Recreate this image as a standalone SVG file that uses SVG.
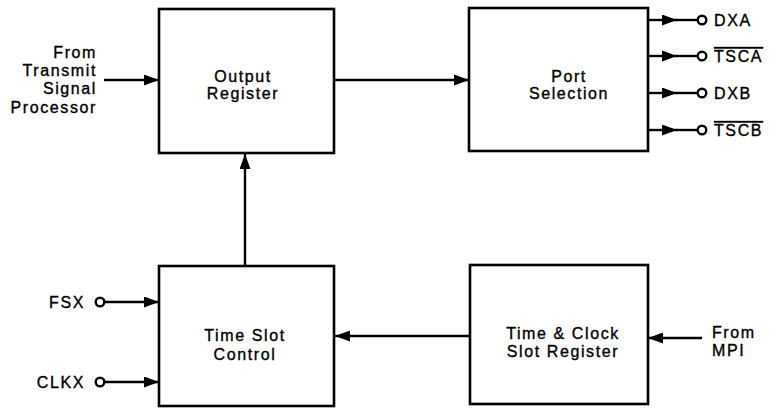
<svg xmlns="http://www.w3.org/2000/svg" width="769" height="408" viewBox="0 0 769 408">
<style>
.box{fill:#fff;stroke:#000;stroke-width:2.6}
.ln{fill:none;stroke:#000;stroke-width:2.4}
.pin{fill:#fff;stroke:#000;stroke-width:2.4}
text{font-family:"Liberation Sans",Arial,sans-serif;font-size:16px;letter-spacing:1.6px;fill:#000;stroke:#000;stroke-width:0.35}
.m{text-anchor:middle}
.e{text-anchor:end}
.ov{text-decoration:overline}
</style>
<defs>
<marker id="ah" viewBox="0 0 15 11" refX="15" refY="5.5" markerWidth="15" markerHeight="11" markerUnits="userSpaceOnUse" orient="auto">
<path d="M0,0 L15,5.5 L0,11 Z" fill="#000"/>
</marker>
</defs>
<rect width="769" height="408" fill="#fff"/>
<g id="connectors">
<line class="ln" x1="104" y1="80" x2="159" y2="80" marker-end="url(#ah)"/>
<line class="ln" x1="334" y1="80" x2="469" y2="80" marker-end="url(#ah)"/>
<line class="ln" x1="245" y1="266" x2="245" y2="154" marker-end="url(#ah)"/>
<line class="ln" x1="470" y1="336" x2="335" y2="336" marker-end="url(#ah)"/>
<line class="ln" x1="702" y1="338" x2="648" y2="338" marker-end="url(#ah)"/>
<line class="ln" x1="104" y1="302" x2="159" y2="302" marker-end="url(#ah)"/>
<line class="ln" x1="104" y1="382" x2="159" y2="382" marker-end="url(#ah)"/>
<line class="ln" x1="648" y1="20" x2="677" y2="20" marker-end="url(#ah)"/>
<line class="ln" x1="676" y1="20" x2="698" y2="20"/>
<line class="ln" x1="648" y1="56" x2="677" y2="56" marker-end="url(#ah)"/>
<line class="ln" x1="676" y1="56" x2="698" y2="56"/>
<line class="ln" x1="648" y1="93" x2="677" y2="93" marker-end="url(#ah)"/>
<line class="ln" x1="676" y1="93" x2="698" y2="93"/>
<line class="ln" x1="648" y1="130" x2="677" y2="130" marker-end="url(#ah)"/>
<line class="ln" x1="676" y1="130" x2="698" y2="130"/>
<circle class="pin" cx="702" cy="20" r="4.3"/>
<circle class="pin" cx="702" cy="56" r="4.3"/>
<circle class="pin" cx="702" cy="93" r="4.3"/>
<circle class="pin" cx="702" cy="130" r="4.3"/>
<circle class="pin" cx="100" cy="302" r="4.3"/>
<circle class="pin" cx="100" cy="382" r="4.3"/>
</g>
<g id="output-register">
<rect class="box" x="159" y="9" width="175" height="144"/>
<text class="m" x="243" y="82">Output</text>
<text class="m" x="243" y="99">Register</text>
</g>
<g id="port-selection">
<rect class="box" x="469" y="8" width="179" height="143"/>
<text class="m" x="569" y="82">Port</text>
<text class="m" x="569" y="99">Selection</text>
</g>
<g id="time-slot-control">
<rect class="box" x="159" y="266" width="175" height="140"/>
<text class="m" x="245" y="341">Time Slot</text>
<text class="m" x="245" y="360">Control</text>
</g>
<g id="time-clock-slot-register">
<rect class="box" x="470" y="265" width="178" height="139"/>
<text class="m" x="563" y="339">Time &amp; Clock</text>
<text class="m" x="563" y="357">Slot Register</text>
</g>
<g id="labels">
<text class="e" x="97" y="58">From</text>
<text class="e" x="97" y="76">Transmit</text>
<text class="e" x="97" y="94">Signal</text>
<text class="e" x="97" y="113">Processor</text>
<text class="e" x="85" y="308">FSX</text>
<text class="e" x="85" y="388">CLKX</text>
<text x="712" y="338">From</text>
<text x="712" y="356">MPI</text>
<text x="714" y="26">DXA</text>
<text class="ov" x="714" y="62">TSCA</text>
<text x="714" y="99">DXB</text>
<text class="ov" x="714" y="136">TSCB</text>
</g>
</svg>
